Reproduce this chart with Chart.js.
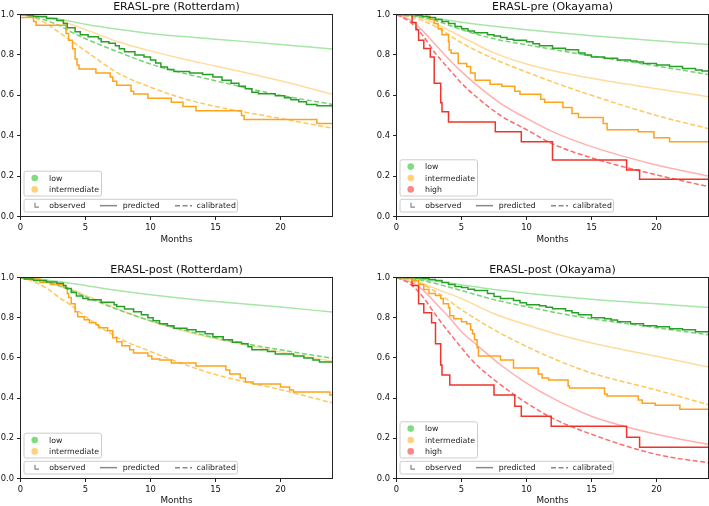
<!doctype html>
<html>
<head>
<meta charset="utf-8">
<title>ERASL survival</title>
<script src="https://cdn.jsdelivr.net/npm/chart.js@4.4.1/dist/chart.umd.min.js"></script>
<style>
  body { margin: 0; background: #fff; width: 709px; height: 506px; overflow: hidden; position: relative; }
  canvas { position: absolute; }
</style>
</head>
<body>
<canvas id="preRot" width="354" height="253" style="left:0;top:0"></canvas>
<canvas id="preOka" width="355" height="253" style="left:354px;top:0"></canvas>
<canvas id="postRot" width="354" height="253" style="left:0;top:253px"></canvas>
<canvas id="postOka" width="355" height="253" style="left:354px;top:253px"></canvas>
<script>
// [months, survival]

// ERASL-pre (Rotterdam)
const preRotLowObs = [[0,1],[0.5,0.995],[1,0.99],[2,0.98],[2.8,0.97],[3.3,0.955],[3.6,0.935],[4.2,0.915],[4.6,0.9],[5.2,0.89],[6,0.88],[6.2,0.865],[6.8,0.858],[7.3,0.845],[7.6,0.83],[8,0.815],[8.8,0.8],[9.5,0.79],[10,0.775],[10.4,0.76],[10.8,0.74],[11.3,0.728],[11.8,0.718],[13,0.71],[14,0.703],[14.8,0.69],[15.5,0.675],[16.2,0.66],[16.8,0.645],[17.3,0.632],[17.8,0.615],[18.3,0.608],[19.6,0.598],[20.3,0.588],[20.8,0.578],[21.4,0.568],[22,0.555],[22.8,0.548],[24,0.54]];
const preRotLowPred = [[0,1],[1,0.993],[2,0.985],[3,0.977],[5,0.952],[7.5,0.927],[10,0.906],[15,0.878],[20,0.852],[24,0.829]];
const preRotLowCal = [[0,1],[1,0.99],[2,0.97],[3,0.945],[4,0.91],[5,0.88],[7.5,0.815],[10,0.755],[12.5,0.71],[15,0.672],[20,0.6],[24,0.555]];
const preRotIntObs = [[0,0.985],[1,0.965],[1.2,0.947],[3.5,0.906],[3.7,0.873],[4,0.83],[4.2,0.78],[4.35,0.75],[4.5,0.73],[5.8,0.71],[6.9,0.69],[7.1,0.67],[7.4,0.65],[8.5,0.62],[8.7,0.607],[9.8,0.585],[11.6,0.565],[12.5,0.545],[13.5,0.524],[17,0.5],[17.2,0.48],[22.8,0.46],[24,0.46]];
const preRotIntPred = [[0,1],[1,0.995],[2,0.985],[3,0.97],[5,0.925],[7.5,0.865],[10,0.82],[12.5,0.78],[15,0.745],[20,0.672],[24,0.605]];
const preRotIntCal = [[0,1],[1,0.985],[2,0.955],[3,0.91],[4,0.865],[5,0.82],[7.5,0.71],[10,0.64],[12.5,0.585],[15,0.545],[20,0.485],[24,0.437]];

// ERASL-pre (Okayama)
const preOkaLowObs = [[0,1],[1.5,0.995],[2,0.99],[2.5,0.985],[3,0.975],[3.5,0.965],[4,0.955],[4.5,0.94],[5,0.93],[5.5,0.918],[6,0.91],[7,0.9],[7.5,0.893],[8,0.886],[8.5,0.878],[9,0.873],[10,0.865],[10.5,0.855],[11,0.845],[12,0.833],[13,0.825],[14,0.81],[14.5,0.8],[15,0.79],[16,0.783],[17,0.775],[18,0.77],[18.5,0.765],[19,0.758],[20,0.75],[21,0.742],[22,0.733],[23,0.725],[23.5,0.72],[24,0.718]];
const preOkaLowPred = [[0,1],[2,0.99],[5,0.962],[7.5,0.942],[10,0.925],[15,0.895],[20,0.87],[24,0.852]];
const preOkaLowCal = [[0,1],[2,0.985],[3,0.97],[5,0.925],[7.5,0.88],[10,0.85],[12.5,0.822],[15,0.795],[20,0.745],[24,0.703]];
const preOkaIntObs = [[0,1],[2.3,0.99],[2.6,0.975],[2.9,0.955],[3.2,0.93],[3.5,0.9],[4,0.865],[4.05,0.824],[4.2,0.808],[4.75,0.758],[5.4,0.742],[5.7,0.71],[6.05,0.675],[7.2,0.655],[8.1,0.645],[9.1,0.62],[9.5,0.605],[11.1,0.58],[11.4,0.565],[12.8,0.54],[13.5,0.51],[14,0.49],[15.9,0.46],[16.2,0.43],[18.6,0.42],[19.8,0.39],[21,0.37],[24,0.37]];
const preOkaIntPred = [[0,1],[1,0.995],[2,0.98],[3,0.955],[5,0.89],[7.5,0.81],[10,0.755],[12.5,0.715],[15,0.684],[20,0.632],[24,0.593]];
const preOkaIntCal = [[0,1],[1,0.99],[2,0.97],[3,0.94],[5,0.86],[7.5,0.78],[10,0.715],[12.5,0.655],[15,0.6],[20,0.5],[24,0.435]];
const preOkaHighObs = [[0,1],[1.2,0.96],[1.5,0.925],[1.7,0.873],[2.1,0.832],[2.6,0.79],[2.9,0.66],[3.4,0.563],[3.5,0.519],[4,0.468],[7.6,0.42],[9.6,0.37],[12,0.28],[17.7,0.23],[18.7,0.185],[24,0.185]];
const preOkaHighPred = [[0,1],[1,0.975],[2,0.92],[3,0.85],[4,0.78],[5,0.717],[6,0.66],[8,0.56],[10,0.486],[12,0.42],[15,0.346],[20,0.255],[24,0.2]];
const preOkaHighCal = [[0,1],[1,0.965],[2,0.898],[3,0.807],[4,0.733],[5,0.66],[6,0.6],[8,0.5],[10,0.43],[12,0.36],[15,0.29],[20,0.206],[24,0.148]];

// ERASL-post (Rotterdam)
const postRotLowObs = [[0,1],[0.3,0.992],[1,0.985],[2,0.978],[2.8,0.972],[3.3,0.96],[3.5,0.945],[3.9,0.925],[4.3,0.908],[4.8,0.895],[5.2,0.889],[6.2,0.877],[7.2,0.865],[7.4,0.856],[8,0.843],[8.7,0.83],[9.3,0.815],[9.8,0.8],[10.2,0.785],[10.7,0.77],[11.3,0.76],[11.8,0.748],[12.8,0.74],[13.5,0.73],[14.2,0.72],[14.8,0.705],[15.6,0.69],[16.3,0.678],[17,0.67],[17.5,0.655],[17.8,0.64],[19,0.632],[19.6,0.62],[21,0.61],[21.8,0.6],[22.5,0.59],[23,0.58],[24,0.575]];
const postRotLowPred = [[0,1],[2,0.988],[5,0.96],[7.5,0.935],[10,0.914],[15,0.88],[20,0.853],[24,0.828]];
const postRotLowCal = [[0,1],[1,0.993],[2,0.978],[3,0.958],[4,0.933],[5,0.905],[7.5,0.84],[10,0.785],[12.5,0.74],[15,0.7],[20,0.64],[24,0.598]];
const postRotIntObs = [[0,1],[0.3,0.993],[1.5,0.975],[2.3,0.965],[3.3,0.95],[3.6,0.92],[3.7,0.9],[3.9,0.87],[4.2,0.83],[4.4,0.805],[4.9,0.79],[5.3,0.775],[5.8,0.765],[6,0.75],[6.7,0.735],[7.1,0.7],[7.4,0.68],[7.8,0.66],[8.4,0.64],[8.7,0.625],[9.8,0.61],[10.1,0.595],[10.7,0.59],[11.6,0.575],[13.5,0.56],[15.8,0.54],[16.1,0.52],[16.9,0.5],[17.3,0.48],[17.9,0.47],[20,0.455],[20.7,0.44],[21,0.43],[23.8,0.415],[24,0.415]];
const postRotIntPred = [[0,1],[1,0.993],[2,0.98],[3,0.962],[4,0.94],[5,0.912],[7.5,0.843],[10,0.783],[12.5,0.735],[15,0.695],[20,0.63],[24,0.583]];
const postRotIntCal = [[0,1],[1,0.98],[2,0.947],[3,0.9],[4,0.856],[5,0.806],[7.5,0.7],[10,0.632],[12.5,0.57],[15,0.517],[20,0.442],[24,0.376]];

// ERASL-post (Okayama)
const postOkaLowObs = [[0,1],[1.5,0.998],[2,0.995],[2.5,0.99],[3,0.985],[3.5,0.975],[4,0.965],[4.5,0.955],[5,0.95],[5.5,0.942],[6,0.935],[7,0.92],[7.5,0.905],[8,0.895],[9,0.885],[9.5,0.875],[10,0.865],[11,0.86],[11.5,0.852],[12,0.845],[13,0.835],[13.5,0.825],[14,0.815],[15,0.8],[16,0.795],[16.5,0.788],[17,0.78],[18,0.77],[19,0.76],[20,0.755],[21,0.745],[22,0.74],[23,0.73],[24,0.72]];
const postOkaLowPred = [[0,1],[2,0.99],[5,0.964],[7.5,0.94],[10,0.922],[15,0.892],[20,0.869],[24,0.851]];
const postOkaLowCal = [[0,1],[1,0.995],[2,0.985],[3,0.97],[5,0.935],[7.5,0.89],[10,0.855],[12.5,0.822],[15,0.795],[20,0.75],[24,0.715]];
const postOkaIntObs = [[0,1],[1.2,0.985],[1.7,0.965],[2.1,0.94],[2.5,0.92],[3,0.91],[3.4,0.895],[3.6,0.87],[4,0.85],[4.1,0.81],[4.4,0.795],[5,0.78],[5.4,0.77],[5.7,0.74],[5.85,0.72],[6,0.69],[6.2,0.65],[6.3,0.61],[8,0.59],[9,0.55],[10.9,0.52],[11.2,0.5],[11.7,0.49],[13.2,0.46],[13.3,0.45],[16,0.42],[16.2,0.41],[18.6,0.39],[18.9,0.375],[19.9,0.365],[21.8,0.345],[24,0.345]];
const postOkaIntPred = [[0,1],[1,0.99],[2,0.97],[3,0.945],[5,0.895],[7.5,0.82],[10,0.765],[12.5,0.715],[15,0.674],[20,0.608],[24,0.555]];
const postOkaIntCal = [[0,1],[1,0.985],[2,0.965],[3,0.93],[5,0.84],[7.5,0.74],[10,0.657],[12.5,0.585],[15,0.525],[20,0.44],[24,0.367]];
const postOkaHighObs = [[0,1],[1.2,0.96],[1.7,0.87],[2.1,0.825],[2.7,0.775],[3,0.67],[3.4,0.565],[3.5,0.515],[4.1,0.465],[7.5,0.415],[9.1,0.36],[9.6,0.31],[11.9,0.26],[17.7,0.205],[18.7,0.155],[24,0.155]];
const postOkaHighPred = [[0,1],[1,0.98],[2,0.94],[3,0.873],[4,0.806],[5,0.73],[6,0.674],[8,0.566],[10,0.475],[12,0.4],[15,0.31],[20,0.22],[24,0.17]];
const postOkaHighCal = [[0,1],[1,0.97],[2,0.906],[3,0.815],[4,0.73],[5,0.65],[6,0.575],[8,0.467],[10,0.376],[12,0.3],[15,0.22],[20,0.12],[24,0.078]];

const groupNames = ['low', 'intermediate', 'high'];
const legendKinds = ['observed', 'predicted', 'calibrated'];
const xTicks = [0, 5, 10, 15, 20];
const yTicks = [0, 0.2, 0.4, 0.6, 0.8, 1.0];

const colors = {
  low:          { obs: '#28a028', pred: '#a8e6a8', cal: '#72d472', dot: '#80dc80' },
  intermediate: { obs: '#ffa31a', pred: '#ffdc9e', cal: '#ffc75c', dot: '#ffd27a' },
  high:         { obs: '#ee352b', pred: '#ffb0b0', cal: '#ff6b6b', dot: '#ff8686' }
};

Chart.defaults.font.family = 'DejaVu Sans';
Chart.defaults.color = '#111';

const toPts = arr => arr.map(p => ({ x: p[0], y: p[1] }));

function box(ctx, x, y, w, h) {
  ctx.save();
  ctx.beginPath();
  ctx.roundRect(x, y, w, h, 2);
  ctx.fillStyle = 'rgba(255,255,255,0.8)';
  ctx.fill();
  ctx.strokeStyle = '#cccccc';
  ctx.lineWidth = 1;
  ctx.stroke();
  ctx.restore();
}

const decor = {
  id: 'decor',
  afterDraw(chart, args, opts) {
    const ctx = chart.ctx;
    const a = chart.chartArea;
    ctx.save();
    // frame
    ctx.strokeStyle = '#222';
    ctx.lineWidth = 1;
    ctx.strokeRect(a.left, a.top, a.right - a.left, a.bottom - a.top);
    // title
    ctx.fillStyle = '#111';
    ctx.font = '11px "DejaVu Sans"';
    ctx.textAlign = 'center';
    ctx.textBaseline = 'alphabetic';
    ctx.fillText(opts.title, (a.left + a.right) / 2, a.top - 5);

    // legends
    const x0 = a.left + 3.5;
    const l2h = 12.7, l2w = 213.5;
    const l2top = a.bottom - 4.5 - l2h;
    const rows = opts.groups;
    const l1h = 2 + 11.4 * rows.length;
    const l1top = l2top - 3.3 - l1h;
    ctx.font = '7.8px "DejaVu Sans"';
    ctx.textAlign = 'left';
    ctx.textBaseline = 'middle';

    box(ctx, x0, l1top, 77.5, l1h);
    rows.forEach((g, i) => {
      const cy = l1top + 6.8 + 11.4 * i;
      ctx.beginPath();
      ctx.arc(x0 + 10.7, cy, 3.3, 0, Math.PI * 2);
      ctx.fillStyle = colors[g].dot;
      ctx.fill();
      ctx.fillStyle = '#222';
      ctx.fillText(g, x0 + 25, cy + 0.5);
    });

    box(ctx, x0, l2top, l2w, l2h);
    const cy = l2top + l2h / 2;
    ctx.strokeStyle = '#888';
    ctx.lineWidth = 1.2;
    ctx.beginPath();
    ctx.moveTo(x0 + 11, cy - 3);
    ctx.lineTo(x0 + 11, cy + 1.5);
    ctx.lineTo(x0 + 15, cy + 1.5);
    ctx.stroke();
    ctx.lineWidth = 1.5;
    ctx.beginPath();
    ctx.moveTo(x0 + 76, cy);
    ctx.lineTo(x0 + 93, cy);
    ctx.stroke();
    ctx.setLineDash([5, 2.5]);
    ctx.beginPath();
    ctx.moveTo(x0 + 151, cy);
    ctx.lineTo(x0 + 168, cy);
    ctx.stroke();
    ctx.setLineDash([]);
    ctx.fillStyle = '#222';
    ctx.fillText(legendKinds[0], x0 + 25.3, cy + 0.5);
    ctx.fillText(legendKinds[1], x0 + 98.7, cy + 0.5);
    ctx.fillText(legendKinds[2], x0 + 172.7, cy + 0.5);
    ctx.restore();
  }
};

function makePanel(id, title, groups, lay) {
  const datasets = [];
  groups.forEach(g => {
    datasets.push({ data: toPts(g.obs), borderColor: colors[g.name].obs, borderWidth: 1.5, stepped: 'before', pointRadius: 0 });
  });
  groups.forEach(g => {
    datasets.push({ data: toPts(g.cal), borderColor: colors[g.name].cal, borderWidth: 1.5, borderDash: [5, 2.5], cubicInterpolationMode: 'monotone', pointRadius: 0 });
  });
  groups.forEach(g => {
    datasets.push({ data: toPts(g.pred), borderColor: colors[g.name].pred, borderWidth: 1.5, cubicInterpolationMode: 'monotone', pointRadius: 0 });
  });

  return new Chart(document.getElementById(id), {
    type: 'line',
    data: { datasets: datasets },
    plugins: [decor],
    options: {
      responsive: false,
      animation: false,
      events: [],
      layout: { padding: { left: 0, top: lay.padT, right: lay.padR, bottom: 0 } },
      plugins: {
        legend: { display: false },
        tooltip: { enabled: false },
        decor: { title: title, groups: groups.map(g => g.name) }
      },
      scales: {
        x: {
          type: 'linear', min: 0, max: 24,
          afterFit: s => { s.height = lay.xh; },
          afterBuildTicks: s => { s.ticks = xTicks.map(v => ({ value: v })); },
          ticks: { font: { size: 8.4 }, padding: 2.5, color: '#111', maxRotation: 0, callback: v => String(v) },
          grid: { drawOnChartArea: false, drawTicks: true, tickLength: 3.5, color: '#222' },
          border: { display: false },
          title: { display: true, text: 'Months', font: { size: 8.8, lineHeight: 1.2 }, color: '#111', padding: { top: 0, bottom: lay.mPad } }
        },
        y: {
          type: 'linear', min: 0, max: 1,
          afterFit: s => { s.width = lay.yw; },
          afterBuildTicks: s => { s.ticks = yTicks.map(v => ({ value: v })); },
          ticks: { font: { size: 8.4 }, padding: 3, color: '#111', callback: v => v.toFixed(1) },
          grid: { drawOnChartArea: false, drawTicks: true, tickLength: 3.5, color: '#222' },
          border: { display: false }
        }
      }
    }
  });
}

makePanel('preRot', 'ERASL-pre (Rotterdam)', [
  { name: groupNames[0], obs: preRotLowObs, pred: preRotLowPred, cal: preRotLowCal },
  { name: groupNames[1], obs: preRotIntObs, pred: preRotIntPred, cal: preRotIntCal }
], { padT: 14.5, padR: 21.5, yw: 20.5, xh: 36.5, mPad: 8 });

makePanel('preOka', 'ERASL-pre (Okayama)', [
  { name: groupNames[0], obs: preOkaLowObs, pred: preOkaLowPred, cal: preOkaLowCal },
  { name: groupNames[1], obs: preOkaIntObs, pred: preOkaIntPred, cal: preOkaIntCal },
  { name: groupNames[2], obs: preOkaHighObs, pred: preOkaHighPred, cal: preOkaHighCal }
], { padT: 14.5, padR: 0.5, yw: 42.5, xh: 36.5, mPad: 8 });

makePanel('postRot', 'ERASL-post (Rotterdam)', [
  { name: groupNames[0], obs: postRotLowObs, pred: postRotLowPred, cal: postRotLowCal },
  { name: groupNames[1], obs: postRotIntObs, pred: postRotIntPred, cal: postRotIntCal }
], { padT: 24.5, padR: 21.5, yw: 20.5, xh: 27.5, mPad: 0 });

makePanel('postOka', 'ERASL-post (Okayama)', [
  { name: groupNames[0], obs: postOkaLowObs, pred: postOkaLowPred, cal: postOkaLowCal },
  { name: groupNames[1], obs: postOkaIntObs, pred: postOkaIntPred, cal: postOkaIntCal },
  { name: groupNames[2], obs: postOkaHighObs, pred: postOkaHighPred, cal: postOkaHighCal }
], { padT: 24.5, padR: 0.5, yw: 42.5, xh: 27.5, mPad: 0 });
</script>
</body>
</html>
